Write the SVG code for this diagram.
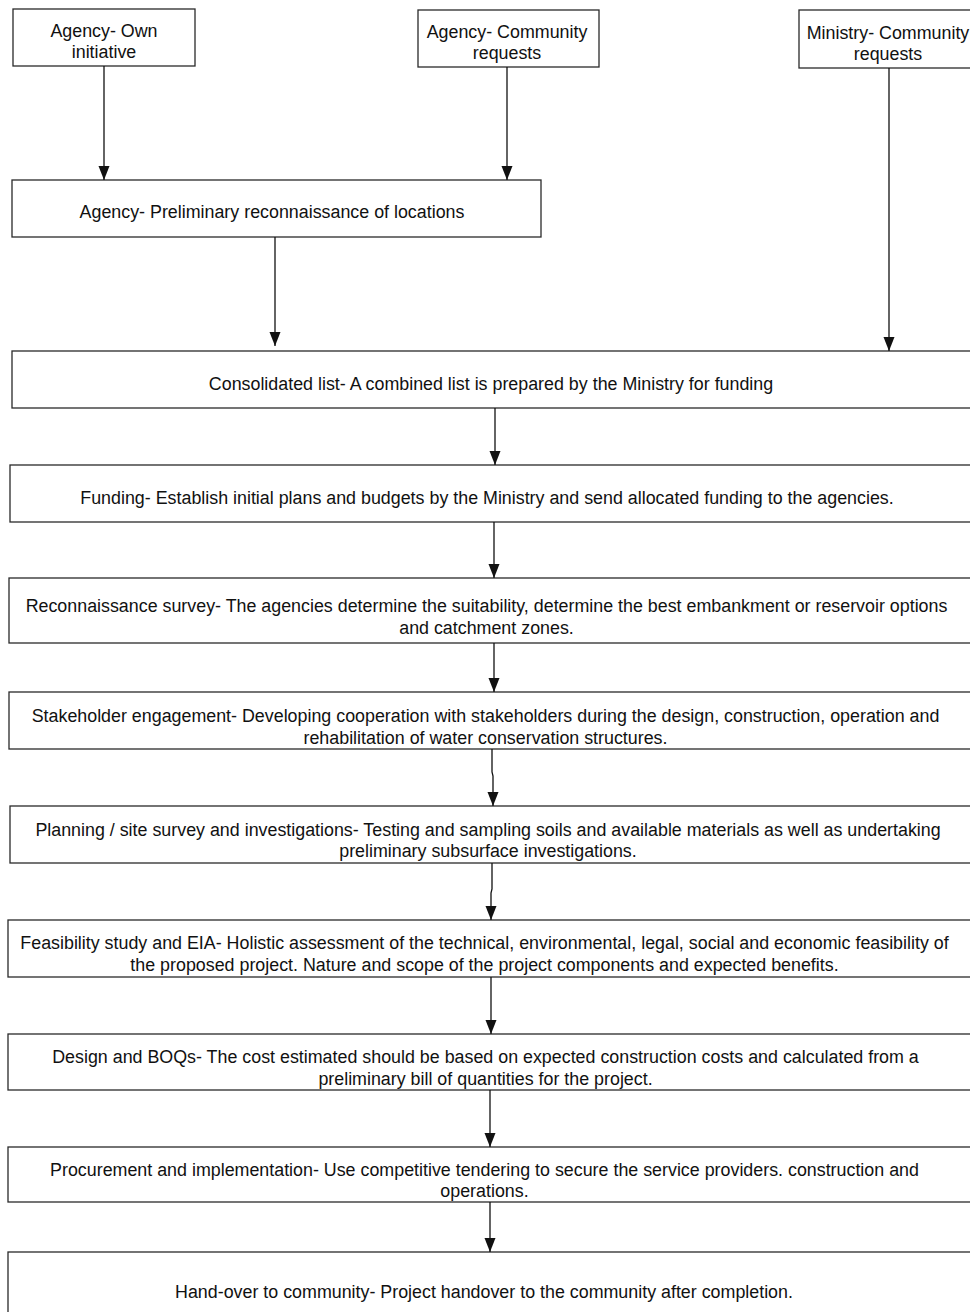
<svg xmlns="http://www.w3.org/2000/svg" width="970" height="1312" viewBox="0 0 970 1312">
<style>
.box{fill:#fff;stroke:#2a2a2a;stroke-width:1.3}
.t{font-family:"Liberation Sans",Arial,sans-serif;font-size:17.85px;fill:#111;text-anchor:middle}
.c{fill:none;stroke:#111;stroke-width:1.3}
</style>
<defs>
<marker id="ah" markerUnits="userSpaceOnUse" markerWidth="14" markerHeight="12" viewBox="0 0 14 12" refX="14" refY="6" orient="auto">
<path d="M0,0.5 L14,6 L0,11.5 z" fill="#111"/>
</marker>
</defs>
<rect width="970" height="1312" fill="#fff"/>
<g id="n-own"><rect class="box" x="13" y="9" width="182" height="57"/><text class="t" x="104" y="36.5">Agency- Own</text><text class="t" x="104" y="57.5">initiative</text></g>
<g id="n-agcomm"><rect class="box" x="418" y="10" width="181" height="57"/><text class="t" x="507" y="37.5">Agency- Community</text><text class="t" x="507" y="58.5">requests</text></g>
<g id="n-mincomm"><rect class="box" x="799" y="10" width="180" height="58"/><text class="t" x="888" y="38.5">Ministry- Community</text><text class="t" x="888" y="59.5">requests</text></g>
<g id="n-prelim"><rect class="box" x="12" y="180" width="529" height="57"/><text class="t" x="272" y="217.5">Agency- Preliminary reconnaissance of locations</text></g>
<g id="n-consol"><rect class="box" x="12" y="351" width="970" height="57"/><text class="t" x="491" y="389.5">Consolidated list- A combined list is prepared by the Ministry for funding</text></g>
<g id="n-funding"><rect class="box" x="10" y="465" width="972" height="57"/><text class="t" x="487" y="503.5">Funding- Establish initial plans and budgets by the Ministry and send allocated funding to the agencies.</text></g>
<g id="n-recon"><rect class="box" x="9" y="578" width="973" height="65"/><text class="t" x="486.5" y="611.5">Reconnaissance survey- The agencies determine the suitability, determine the best embankment or reservoir options</text><text class="t" x="486.5" y="633.5">and catchment zones.</text></g>
<g id="n-stake"><rect class="box" x="9" y="692" width="973" height="57"/><text class="t" x="485.5" y="721.5">Stakeholder engagement- Developing cooperation with stakeholders during the design, construction, operation and</text><text class="t" x="485.5" y="743.5">rehabilitation of water conservation structures.</text></g>
<g id="n-plan"><rect class="box" x="10" y="806" width="972" height="57"/><text class="t" x="488" y="835.5">Planning / site survey and investigations- Testing and sampling soils and available materials as well as undertaking</text><text class="t" x="488" y="856.5">preliminary subsurface investigations.</text></g>
<g id="n-feas"><rect class="box" x="8" y="920" width="974" height="57"/><text class="t" x="484.5" y="948.5">Feasibility study and EIA- Holistic assessment of the technical, environmental, legal, social and economic feasibility of</text><text class="t" x="484.5" y="970.5">the proposed project. Nature and scope of the project components and expected benefits.</text></g>
<g id="n-design"><rect class="box" x="8" y="1034" width="974" height="56"/><text class="t" x="485.5" y="1062.5">Design and BOQs- The cost estimated should be based  on expected construction costs and calculated from a</text><text class="t" x="485.5" y="1084.5">preliminary bill of quantities for the project.</text></g>
<g id="n-proc"><rect class="box" x="8" y="1147" width="974" height="55"/><text class="t" x="484.5" y="1175.5">Procurement and implementation- Use competitive tendering to secure the service providers. construction and</text><text class="t" x="484.5" y="1196.5">operations.</text></g>
<g id="n-hand"><rect class="box" x="8" y="1252" width="974" height="80"/><text class="t" x="484" y="1297.5">Hand-over to community- Project handover to the community after completion.</text></g>
<g id="connectors">
<line class="c" x1="104" y1="66" x2="104" y2="180" marker-end="url(#ah)"/>
<line class="c" x1="507" y1="67" x2="507" y2="180" marker-end="url(#ah)"/>
<line class="c" x1="889" y1="68" x2="889" y2="351" marker-end="url(#ah)"/>
<line class="c" x1="275" y1="237" x2="275" y2="346" marker-end="url(#ah)"/>
<line class="c" x1="495" y1="408" x2="495" y2="465" marker-end="url(#ah)"/>
<line class="c" x1="494" y1="522" x2="494" y2="578" marker-end="url(#ah)"/>
<line class="c" x1="494" y1="643" x2="494" y2="692" marker-end="url(#ah)"/>
<polyline class="c" points="492,749 492,772 493,776 493,806" marker-end="url(#ah)"/>
<polyline class="c" points="492,863 492,889 491,893 491,920" marker-end="url(#ah)"/>
<line class="c" x1="491" y1="977" x2="491" y2="1034" marker-end="url(#ah)"/>
<line class="c" x1="490" y1="1090" x2="490" y2="1147" marker-end="url(#ah)"/>
<line class="c" x1="490" y1="1202" x2="490" y2="1252" marker-end="url(#ah)"/>
</g>
</svg>
